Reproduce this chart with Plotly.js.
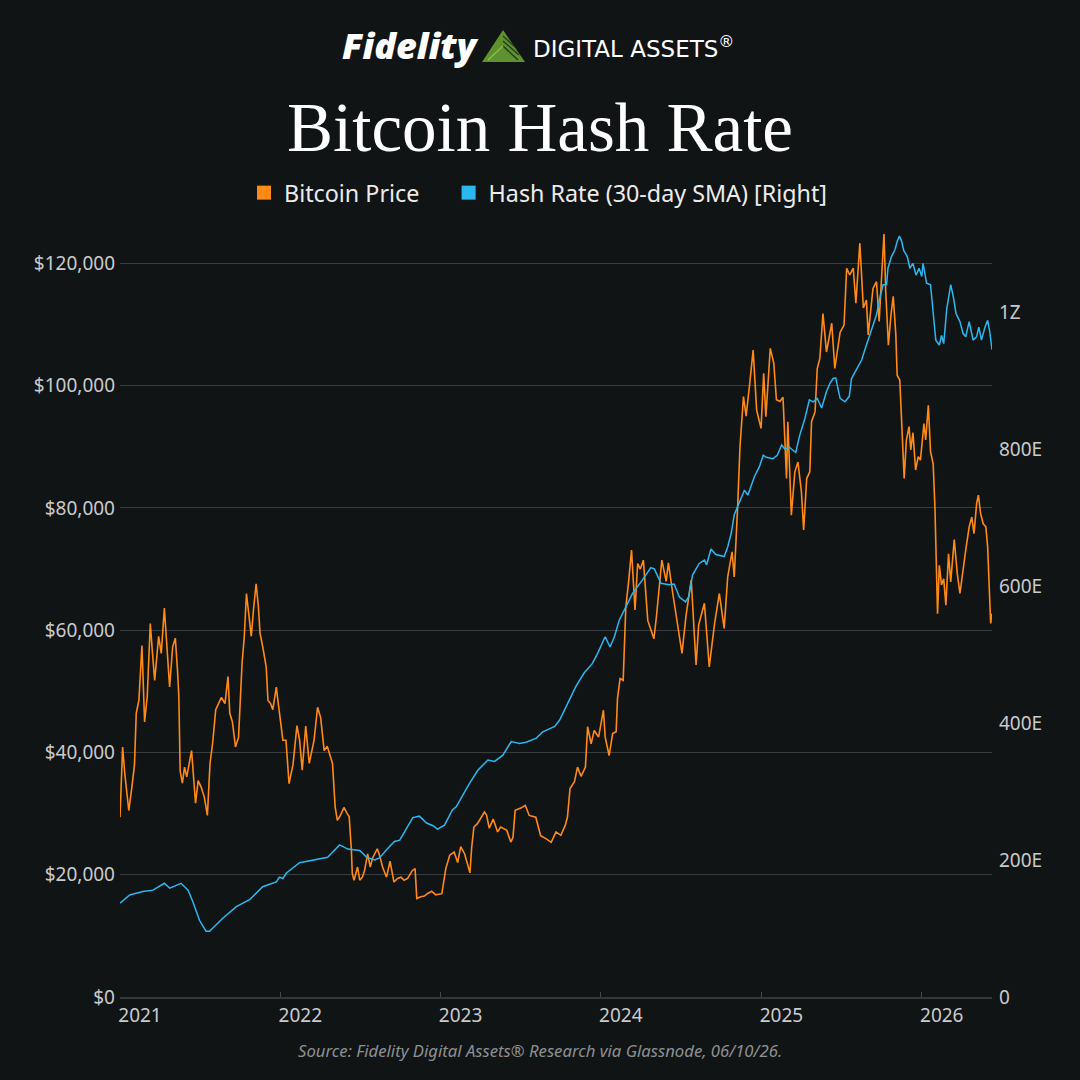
<!DOCTYPE html>
<html>
<head>
<meta charset="utf-8">
<script src="https://cdn.plot.ly/plotly-3.0.1.min.js"></script>
<style>
  html, body { margin: 0; padding: 0; background: #111415; }
  #chart { width: 1080px; height: 1080px; }
</style>
</head>
<body>
<div id="chart"></div>
<script>
// ---- Data ----
const priceDates = [
'2021-01-01','2021-01-07','2021-01-12','2021-01-21','2021-01-28','2021-02-03','2021-02-07','2021-02-13','2021-02-20','2021-02-26',
'2021-03-04','2021-03-11','2021-03-16','2021-03-21','2021-03-30','2021-04-05','2021-04-12','2021-04-18','2021-04-24','2021-05-01',
'2021-05-07','2021-05-12','2021-05-15','2021-05-18','2021-05-23','2021-05-28','2021-06-02','2021-06-13','2021-06-22','2021-06-28',
'2021-07-05','2021-07-12','2021-07-19','2021-07-25','2021-07-31','2021-08-07','2021-08-14','2021-08-20','2021-08-28','2021-09-04',
'2021-09-08','2021-09-14','2021-09-21','2021-09-28','2021-10-06','2021-10-11','2021-10-16','2021-10-22','2021-10-27','2021-11-01',
'2021-11-07','2021-11-12','2021-11-16','2021-11-22','2021-11-30','2021-12-04','2021-12-10','2021-12-15','2021-12-23','2021-12-28',
'2022-01-07','2022-01-14','2022-01-21','2022-01-30','2022-02-08','2022-02-14','2022-02-20','2022-02-28','2022-03-08','2022-03-19',
'2022-03-27','2022-04-03','2022-04-11','2022-04-18','2022-04-24','2022-04-30','2022-05-06','2022-05-11','2022-05-18','2022-05-26',
'2022-06-03','2022-06-07','2022-06-12','2022-06-14','2022-06-18','2022-06-26','2022-07-01','2022-07-07','2022-07-12','2022-07-19',
'2022-07-25','2022-07-30','2022-08-10','2022-08-16','2022-08-22','2022-08-31','2022-09-08','2022-09-17','2022-09-25','2022-10-03',
'2022-10-10','2022-10-18','2022-10-29','2022-11-04','2022-11-08','2022-11-17','2022-11-25','2022-12-02','2022-12-12','2022-12-21',
'2023-01-04','2023-01-08','2023-01-13','2023-01-22','2023-02-01','2023-02-09','2023-02-16','2023-02-25','2023-03-09','2023-03-13',
'2023-03-18','2023-03-26','2023-04-04','2023-04-11','2023-04-16','2023-04-22','2023-05-01','2023-05-11','2023-05-18','2023-06-01',
'2023-06-10','2023-06-15','2023-06-20','2023-07-03','2023-07-13','2023-07-22','2023-08-06','2023-08-17','2023-08-29','2023-09-10',
'2023-09-21','2023-10-02','2023-10-12','2023-10-17','2023-10-23','2023-11-02','2023-11-09','2023-11-17','2023-11-27','2023-12-02',
'2023-12-10','2023-12-17','2023-12-27','2024-01-07','2024-01-11','2024-01-20','2024-01-28','2024-02-05','2024-02-08','2024-02-14',
'2024-02-21','2024-02-27','2024-03-04','2024-03-11','2024-03-19','2024-03-25','2024-03-31','2024-04-07','2024-04-17','2024-05-01',
'2024-05-07','2024-05-19','2024-05-29','2024-06-03','2024-06-13','2024-06-22','2024-07-04','2024-07-13','2024-07-25','2024-08-05',
'2024-08-11','2024-08-24','2024-09-04','2024-09-16','2024-09-27','2024-10-08','2024-10-16','2024-10-26','2024-10-31','2024-11-08',
'2024-11-13','2024-11-21','2024-11-27','2024-12-06','2024-12-13','2024-12-21','2024-12-31','2025-01-06','2025-01-11','2025-01-21',
'2025-01-29','2025-02-04','2025-02-12','2025-02-19','2025-02-27','2025-03-02','2025-03-10','2025-03-18','2025-03-25','2025-04-02',
'2025-04-07','2025-04-14','2025-04-21','2025-04-25','2025-05-03','2025-05-08','2025-05-14','2025-05-21','2025-05-29','2025-06-10',
'2025-06-17','2025-06-29','2025-07-08','2025-07-14','2025-07-21','2025-07-29','2025-08-04','2025-08-13','2025-08-21','2025-08-28',
'2025-09-01','2025-09-12','2025-09-20','2025-09-26','2025-10-07','2025-10-11','2025-10-17','2025-10-23','2025-10-28','2025-11-03',
'2025-11-06','2025-11-12','2025-11-16','2025-11-22','2025-11-27','2025-12-03','2025-12-07','2025-12-12','2025-12-18','2025-12-24',
'2025-12-29','2026-01-06','2026-01-10','2026-01-16','2026-01-21','2026-01-27','2026-01-31','2026-02-04','2026-02-06','2026-02-10',
'2026-02-15','2026-02-20','2026-02-25','2026-03-03','2026-03-08','2026-03-16','2026-03-23','2026-03-29','2026-04-05','2026-04-11',
'2026-04-19','2026-04-25','2026-04-30','2026-05-06','2026-05-10','2026-05-15','2026-05-21','2026-05-27','2026-05-31','2026-06-04',
'2026-06-07','2026-06-10'
];
const priceValues = [
29400,40900,36500,30500,34300,38000,46400,48500,57500,45000,
49100,61100,56200,51800,59000,56200,63600,57300,50700,57300,
58700,53400,49100,37000,35000,37600,36000,40300,31700,35400,
34300,32700,29700,38200,41500,47000,48000,49000,48000,52400,
46400,45000,40900,42500,54600,58900,66000,62200,59000,63300,
67600,64000,59500,57300,54000,48500,48000,47000,50700,47700,
42000,42000,34900,38000,44400,42000,37100,44300,38200,42000,
47400,45700,40300,41000,39500,38200,31100,28900,29700,31000,
29900,29500,24000,20200,19100,21250,19100,19600,20700,23400,
21250,22700,24250,23000,21250,19600,22200,18800,19400,19600,
19100,19400,20700,21000,16100,16400,16500,16900,17300,16700,
16900,18500,21000,23200,23700,22000,24600,23400,20300,24500,
27800,28350,29400,30250,29700,27600,29100,27000,27800,27250,
25340,26100,30530,30900,31350,29700,29400,26400,25900,25300,
27000,26450,28070,29400,34100,35200,37600,36100,37600,44200,
41400,43600,42500,46900,42500,39500,43100,43400,48800,52100,
51800,63800,67640,73100,63300,70900,70000,71450,61600,58600,
62400,71450,68000,71000,66000,61600,56200,62300,68200,54300,
60900,64400,54000,61000,66000,60300,68700,72800,68700,80700,
90000,98200,95000,100900,105800,96000,93000,102000,94900,106100,
103700,97700,97400,98100,84800,94100,78800,85900,87500,82600,
76400,84800,85900,94100,95700,102800,104500,111800,105500,110200,
102800,108700,109900,119200,118100,119200,113500,123300,112700,114000,
108300,115900,117000,110500,124800,115400,106600,111600,114600,108300,
101700,100900,94000,84800,91100,93300,89500,92300,86200,88400,
87800,93800,91100,96800,89200,87200,80200,70900,62700,70600,
67400,68400,64100,72500,67900,74800,69200,66000,70300,73000,
76900,78500,75800,80700,82100,79100,77400,76900,73700,65400,
61100,62700
];

const hashDates = [
'2021-01-01','2021-01-23','2021-02-22','2021-03-17','2021-04-12','2021-04-24','2021-05-20','2021-06-05','2021-06-16','2021-07-01',
'2021-07-16','2021-07-24','2021-08-23','2021-09-23','2021-10-23','2021-11-22','2021-12-23','2021-12-30','2022-01-07','2022-01-15',
'2022-02-14','2022-03-16','2022-04-19','2022-05-16','2022-06-04','2022-07-01','2022-07-17','2022-08-04','2022-08-15','2022-08-31',
'2022-09-18','2022-09-30','2022-10-15','2022-10-30','2022-11-14','2022-11-30','2022-12-15','2022-12-25','2023-01-10','2023-01-28',
'2023-02-06','2023-02-21','2023-03-08','2023-03-27','2023-04-19','2023-05-04','2023-05-23','2023-06-11','2023-06-30','2023-07-15',
'2023-08-07','2023-08-22','2023-09-18','2023-09-29','2023-10-14','2023-11-05','2023-11-24','2023-12-13','2023-12-25','2024-01-11',
'2024-01-22','2024-02-01','2024-02-12','2024-02-27','2024-03-13','2024-04-05','2024-04-24','2024-05-02','2024-05-17','2024-06-05',
'2024-06-16','2024-06-28','2024-07-12','2024-07-19','2024-07-28','2024-08-12','2024-08-24','2024-08-29','2024-09-08','2024-09-19',
'2024-10-08','2024-10-16','2024-10-24','2024-10-31','2024-11-12','2024-11-23','2024-12-01','2024-12-16','2024-12-27','2025-01-05',
'2025-01-12','2025-01-27','2025-02-06','2025-02-16','2025-02-23','2025-03-05','2025-03-20','2025-03-29','2025-04-10','2025-04-20',
'2025-04-29','2025-05-08','2025-05-18','2025-05-29','2025-06-06','2025-06-13','2025-06-19','2025-06-29','2025-07-10','2025-07-20',
'2025-07-25','2025-08-06','2025-08-17','2025-08-28','2025-09-09','2025-09-20','2025-09-28','2025-10-05','2025-10-13','2025-10-16',
'2025-10-24','2025-11-01','2025-11-06','2025-11-11','2025-11-16','2025-11-21','2025-11-29','2025-12-05','2025-12-12','2025-12-19',
'2025-12-26','2026-01-01','2026-01-04','2026-01-12','2026-01-21','2026-01-27','2026-02-02','2026-02-10','2026-02-15','2026-02-20',
'2026-02-27','2026-03-08','2026-03-14','2026-03-20','2026-03-29','2026-04-05','2026-04-11','2026-04-19','2026-04-28','2026-05-06',
'2026-05-11','2026-05-17','2026-05-25','2026-05-31','2026-06-05','2026-06-10'
];
// EH/s
const hashValues = [
137,149,154,156,166,159,166,156,139,112,
96,96,115,132,142,161,168,175,173,181,
196,200,204,222,216,214,204,200,203,215,
227,229,246,262,264,254,250,245,251,273,
278,295,312,331,346,344,353,373,370,372,
378,387,395,404,424,453,473,487,502,526,
511,526,550,570,589,609,627,625,604,602,
603,584,577,584,616,633,638,631,654,646,
643,657,677,704,723,740,733,760,774,791,
788,786,791,806,800,803,795,820,845,872,
869,874,860,884,896,903,904,874,869,877,
903,918,930,952,976,996,1022,1040,1040,1064,
1081,1091,1103,1111,1104,1090,1081,1064,1071,1054,
1064,1052,1071,1042,1040,996,959,952,966,954,
1005,1040,1022,998,986,969,964,986,959,964,
978,959,978,988,971,945
];

const seriesNames = ['Bitcoin Price', 'Hash Rate (30-day SMA) [Right]'];

// ---- Layout geometry ----
const L = 120, R = 88, T = 234, B = 83, FW = 1080, FH = 1080;
const PW = FW - L - R, PH = FH - T - B;
const px = x => (x - L) / PW;
const py = y => (FH - B - y) / PH;

const ORANGE = '#ff8a17';
const BLUE = '#2bb7ef';
const TICK = '#c9cbcc';
const GRID = '#3a3d3f';
const NB = '\u00a0';

const traces = [
  { x: priceDates, y: priceValues, type: 'scatter', mode: 'lines', name: seriesNames[0],
    line: { color: ORANGE, width: 1.6 }, showlegend: false, yaxis: 'y' },
  { x: hashDates, y: hashValues.map(v => v * 1e18), type: 'scatter', mode: 'lines',
    name: seriesNames[1], line: { color: BLUE, width: 1.5 }, showlegend: false, yaxis: 'y2' },
  // legend entries (square swatches)
  { x: [null], y: [null], type: 'scatter', mode: 'markers', name: seriesNames[0] + NB + NB + NB + NB,
    marker: { symbol: 'square', size: 14, color: ORANGE } },
  { x: [null], y: [null], type: 'scatter', mode: 'markers', name: seriesNames[1],
    marker: { symbol: 'square', size: 14, color: BLUE } }
];

function tri(pts) {
  return 'M' + pts.map(p => px(p[0]) + ',' + py(p[1])).join(' L') + ' Z';
}
function pl(pts) {
  return 'M' + pts.map(p => px(p[0]) + ',' + py(p[1])).join(' L');
}

const layout = {
  width: FW, height: FH,
  paper_bgcolor: '#111415', plot_bgcolor: '#111415',
  margin: { l: L, r: R, t: T, b: B, pad: 0 },
  font: { family: 'Noto Sans, sans-serif', color: TICK, size: 19 },
  title: {
    text: 'Bitcoin Hash Rate',
    font: { family: 'Liberation Serif, serif', size: 69, color: '#ffffff' },
    x: 0.5, xref: 'container', xanchor: 'center',
    y: 1 - 127 / FH, yref: 'container', yanchor: 'middle'
  },
  legend: {
    orientation: 'h', xref: 'container', yref: 'container',
    x: 244 / FW, xanchor: 'left', y: 1 - 193 / FH, yanchor: 'middle',
    font: { family: 'Noto Sans, sans-serif', size: 23.3, color: '#ececec' },
    bgcolor: 'rgba(0,0,0,0)', itemclick: false
  },
  xaxis: {
    type: 'date', range: ['2021-01-01', '2026-06-10'],
    tick0: '2021-01-01', dtick: 'M12', tickformat: '%Y',
    showgrid: false, zeroline: false,
    showline: true, linecolor: '#34383a', linewidth: 2,
    ticks: 'inside', ticklen: 5, tickcolor: '#45494b', tickwidth: 1,
    ticklabelshift: 20, ticklabelstandoff: 0,
    tickfont: { size: 19, color: TICK }
  },
  yaxis: {
    range: [0, 124800], dtick: 20000, tickprefix: '$', tickformat: ',d',
    showgrid: true, gridcolor: GRID, gridwidth: 1, zeroline: false, showline: false,
    ticks: '', ticklabelstandoff: 4,
    tickfont: { size: 19, color: TICK }
  },
  yaxis2: {
    overlaying: 'y', side: 'right',
    range: [0, 1114e18], dtick: 200e18, tickformat: '~s',
    showgrid: false, zeroline: false, showline: false, ticks: '', ticklabelstandoff: 6,
    tickfont: { size: 19, color: TICK }
  },
  annotations: [
    { xref: 'paper', yref: 'paper', x: px(410), y: py(46), xanchor: 'center', yanchor: 'middle',
      text: 'Fidelity', showarrow: false,
      font: { family: 'Open Sans, sans-serif', size: 36, weight: 800, style: 'italic', color: '#ffffff' } },
    { xref: 'paper', yref: 'paper', x: px(531), y: py(47), xanchor: 'left', yanchor: 'middle',
      text: 'DIGITAL ASSETS<sup>®</sup>', showarrow: false,
      font: { family: 'DejaVu Sans, sans-serif', size: 23, color: '#ffffff' } },
    { xref: 'paper', yref: 'paper', x: px(540), y: py(1050), xanchor: 'center', yanchor: 'middle',
      text: 'Source: Fidelity Digital Assets® Research via Glassnode, 06/10/26.', showarrow: false,
      font: { family: 'Noto Sans, sans-serif', size: 16.7, style: 'italic', color: '#8d9092' } }
  ],
  shapes: [
    { type: 'path', xref: 'paper', yref: 'paper', layer: 'above',
      path: tri([[503, 30], [525, 62], [482, 62]]),
      fillcolor: '#5f9130', line: { width: 0 } },
    { type: 'path', xref: 'paper', yref: 'paper', layer: 'above',
      path: pl([[503, 46], [518, 60]]),
      line: { color: '#23391a', width: 1.4 } },
    { type: 'path', xref: 'paper', yref: 'paper', layer: 'above',
      path: pl([[503, 41], [519, 55]]),
      line: { color: '#23391a', width: 1.3 } },
    { type: 'path', xref: 'paper', yref: 'paper', layer: 'above',
      path: pl([[503, 36], [515, 47]]),
      line: { color: '#23391a', width: 1.2 } },
    { type: 'path', xref: 'paper', yref: 'paper', layer: 'above',
      path: pl([[488, 60], [503, 46]]),
      line: { color: '#8fbf4a', width: 1.2 } }
  ]
};

Plotly.newPlot('chart', traces, layout, { displayModeBar: false, staticPlot: true });
</script>
</body>
</html>
